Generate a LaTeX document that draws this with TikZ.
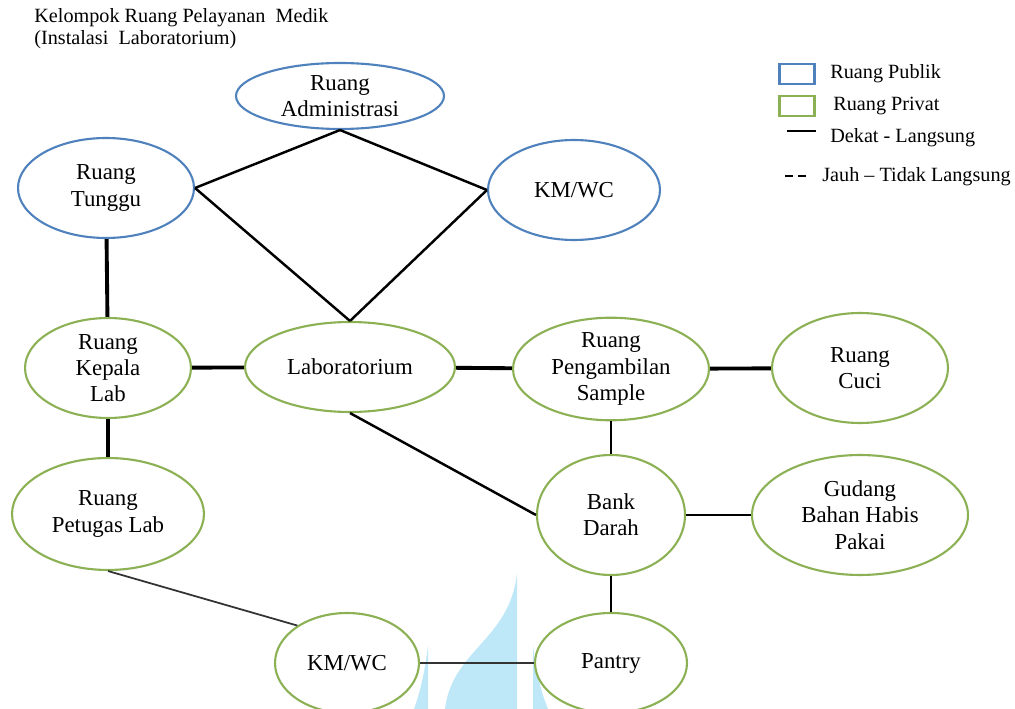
\documentclass[tikz,border=0pt]{standalone}
\usepackage{fontspec}
\setmainfont{Liberation Serif}
\usetikzlibrary{shapes.geometric}

\definecolor{birupub}{RGB}{79,129,189}
\definecolor{hijaupriv}{RGB}{140,177,85}
\definecolor{airmark}{RGB}{190,232,248}

\tikzset{
  ruang/.style={draw, ellipse, line width=1.2pt, inner sep=0pt, align=center,
    font=\fontsize{13}{15}\selectfont},
  publik/.style={ruang, draw=birupub},
  privat/.style={ruang, draw=hijaupriv},
  tebal/.style={line width=2.2pt},
  sedang/.style={line width=1.4pt},
  tipis/.style={line width=1pt, draw=black!80},
  ket/.style={anchor=west, inner sep=0pt, font=\fontsize{11.5}{13}\selectfont},
}

\begin{document}
\begin{tikzpicture}[x=0.02cm,y=-0.02cm]
  \useasboundingbox (0,0) rectangle (1015,709);
  % watermark
  \fill[airmark] (517,573) .. controls (510,640) and (452,650) .. (445,709) -- (517,709) -- cycle;
  \fill[airmark] (428,645) -- (428,709) -- (414,709) .. controls (421,690) and (426,665) .. (428,645);
  \fill[airmark] (533,645) -- (533,709) -- (548,709) .. controls (540,690) and (535,665) .. (533,645);

  % title
  \node[ket] (title1) at (34,18) {Kelompok Ruang Pelayanan \ Medik};
  \node[ket] (title2) at (34,40) {(Instalasi \ Laboratorium)};

  % ruang publik
  \node[publik, minimum width=4.16cm, minimum height=1.32cm] (admin) at (340,96) {Ruang\\Administrasi};
  \node[publik, minimum width=3.52cm, minimum height=2.0cm] (tunggu) at (106,188) {Ruang\\Tunggu};
  \node[publik, minimum width=3.44cm, minimum height=2.0cm] (kmwc) at (574,190) {KM/WC};

  % ruang privat
  \node[privat, minimum width=3.32cm, minimum height=2.0cm] (kepala) at (108,368) {Ruang\\Kepala\\Lab};
  \node[privat, minimum width=4.2cm, minimum height=1.8cm] (lab) at (350,367) {Laboratorium};
  \node[privat, minimum width=3.92cm, minimum height=1.96cm] (ambil) at (611,369) {Ruang\\Pengambilan\\Sample};
  \node[privat, minimum width=3.52cm, minimum height=2.2cm] (cuci) at (860,368) {Ruang\\Cuci};
  \node[privat, minimum width=3.84cm, minimum height=2.24cm] (petugas) at (108,514) {Ruang\\Petugas Lab};
  \node[privat, minimum width=2.96cm, minimum height=2.4cm] (bank) at (611,515) {Bank\\Darah};
  \node[privat, minimum width=4.32cm, minimum height=2.4cm] (gudang) at (860,515) {Gudang\\Bahan Habis\\Pakai};
  \node[privat, minimum width=2.88cm, minimum height=2.0cm] (kmwc2) at (347,663) {KM/WC};
  \node[privat, minimum width=3.04cm, minimum height=2.0cm] (pantry) at (611,663) {Pantry};

  % hubungan
  \draw[sedang] (admin.south) -- (tunggu.east);
  \draw[sedang] (admin.south) -- (kmwc.west);
  \draw[sedang] (tunggu.east) -- (lab.north);
  \draw[sedang] (kmwc.west) -- (lab.north);
  \draw[tebal] (tunggu) -- (kepala);
  \draw[tebal] (kepala) -- (lab);
  \draw[tebal] (lab) -- (ambil);
  \draw[tebal] (ambil) -- (cuci);
  \draw[tebal] (kepala) -- (petugas);
  \draw[sedang] (lab.south) -- (bank.west);
  \draw[sedang] (ambil) -- (bank);
  \draw[sedang] (bank) -- (gudang);
  \draw[sedang] (bank) -- (pantry);
  \draw[tipis] (petugas.south) -- (kmwc2.143);
  \draw[tipis] (kmwc2) -- (pantry);

  % legenda
  \node[draw=birupub, line width=1.2pt, minimum width=0.7cm, minimum height=0.4cm, inner sep=0pt] (kotakpub) at (797,74) {};
  \node[draw=hijaupriv, line width=1.2pt, minimum width=0.7cm, minimum height=0.4cm, inner sep=0pt] (kotakpriv) at (797,106) {};
  \node[ket] (ketpub) at (830,74) {Ruang Publik};
  \node[ket] (ketpriv) at (833,106) {Ruang Privat};
  \coordinate (dekat1) at (787,131);
  \coordinate (dekat2) at (816,131);
  \draw[line width=1.2pt] (dekat1) -- (dekat2);
  \node[ket] (ketdekat) at (830,138) {Dekat - Langsung};
  \coordinate (jauh1) at (785,176);
  \coordinate (jauh2) at (807,176);
  \draw[line width=1.2pt, dash pattern=on 4.5pt off 3pt] (jauh1) -- (jauh2);
  \node[ket] (ketjauh) at (822,177) {Jauh -- Tidak Langsung};
\end{tikzpicture}
\end{document}
